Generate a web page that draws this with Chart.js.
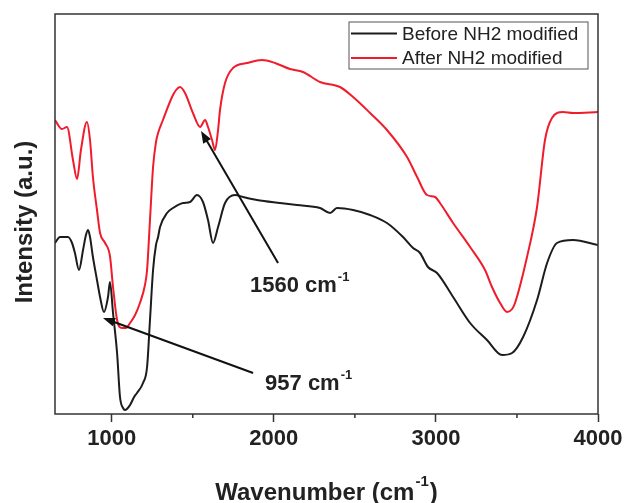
<!DOCTYPE html>
<html>
<head>
<meta charset="utf-8">
<script src="https://cdn.jsdelivr.net/npm/chart.js@4.4.1/dist/chart.umd.min.js"></script>
<style>
  html, body { margin: 0; padding: 0; background: #fff; }
  canvas { display: block; }
</style>
</head>
<body>
<canvas id="chart" width="627" height="503"></canvas>
<script>
// FTIR spectra (intensity in arbitrary units)
const seriesLabels = ['Before NH2 modified', 'After NH2 modified'];
const seriesColors = ['#1c1c1c', '#f01c2c'];

const beforeWavenumber = [650, 681, 730, 755, 773, 798, 823, 841, 854, 866, 884, 909, 928, 952, 977, 989,
  1008, 1033, 1051, 1070, 1082, 1113, 1138, 1156, 1193, 1218, 1236, 1255, 1273, 1286, 1298, 1341, 1378,
  1440, 1483, 1526, 1563, 1594, 1625, 1656, 1699, 1761, 1810, 1896, 2038, 2143, 2285, 2347, 2390, 2489,
  2594, 2698, 2797, 2859, 2902, 2951, 3007, 3106, 3211, 3315, 3408, 3470, 3538, 3624, 3686, 3747, 3846, 4000];
const beforeIntensity = [171, 177, 177, 171, 161, 144, 164, 179, 184, 177, 157, 134, 117, 102, 117, 132,
  101, 61, 17, 6, 4, 9, 17, 21, 31, 47, 94, 144, 169, 177, 187, 201, 206,
  211, 212, 219, 212, 194, 171, 187, 211, 219, 217, 214, 211, 209, 206, 201, 206, 204,
  199, 191, 177, 166, 161, 147, 141, 117, 91, 74, 59, 61, 77, 114, 151, 171, 174, 169];

const afterWavenumber = [650, 693, 724, 761, 786, 810, 847, 866, 884, 909, 928, 959, 989, 1008, 1033, 1063,
  1088, 1113, 1144, 1174, 1205, 1218, 1236, 1255, 1273, 1286, 1316, 1372, 1397, 1421, 1452, 1501, 1545,
  1576, 1594, 1619, 1637, 1656, 1668, 1699, 1748, 1835, 1927, 2007, 2100, 2180, 2285, 2408, 2489, 2594,
  2698, 2822, 2884, 2945, 2995, 3025, 3106, 3211, 3303, 3346, 3396, 3439, 3470, 3488, 3562, 3624, 3673,
  3716, 3784, 3846, 4000];
const afterIntensity = [294, 285, 287, 254, 235, 264, 292, 274, 237, 204, 181, 171, 158, 127, 94, 86,
  86, 91, 99, 111, 129, 144, 194, 247, 272, 281, 294, 317, 324, 327, 321, 301, 287,
  294, 287, 274, 264, 284, 304, 331, 346, 351, 354, 351, 345, 342, 332, 327, 317, 301,
  284, 257, 237, 219, 217, 211, 191, 167, 144, 127, 111, 102, 105, 111, 157, 207, 274,
  296, 302, 301, 302];

const xMajorTicks = [1000, 2000, 3000, 4000];
const xMinorTicks = [1500, 2500, 3500];

// peak annotations: label, arrow tip, arrow tail, text anchor (data units)
const peakLabels = ['1560', '957'];
const peakArrowTip = [[1551, 283], [946, 96]];
const peakArrowTail = [[2026, 151], [1872, 41]];
const peakTextAt = [[1853, 131], [1946, 33]];

const FONT = "'Liberation Sans', Arial, sans-serif";
const INK = '#222222';

function toPoints(xs, ys) {
  return xs.map((x, i) => ({ x, y: ys[i] }));
}

function drawSup(ctx, x, y, main, sup, mainSize, supSize, rise, tail) {
  ctx.font = `bold ${mainSize}px ${FONT}`;
  ctx.fillText(main, x, y);
  let cx = x + ctx.measureText(main).width + 1;
  ctx.font = `bold ${supSize}px ${FONT}`;
  ctx.fillText(sup, cx, y - rise);
  cx += ctx.measureText(sup).width + 1;
  if (tail) {
    ctx.font = `bold ${mainSize}px ${FONT}`;
    ctx.fillText(tail, cx, y);
  }
}

function supWidth(ctx, main, sup, mainSize, supSize, tail) {
  ctx.font = `bold ${mainSize}px ${FONT}`;
  let w = ctx.measureText(main).width + (tail ? ctx.measureText(tail).width : 0);
  ctx.font = `bold ${supSize}px ${FONT}`;
  return w + ctx.measureText(sup).width + 2;
}

function arrow(ctx, x1, y1, x2, y2) {
  const ang = Math.atan2(y2 - y1, x2 - x1);
  const len = 12, half = 4.5;
  ctx.beginPath();
  ctx.moveTo(x1, y1);
  ctx.lineTo(x2 - Math.cos(ang) * len * 0.8, y2 - Math.sin(ang) * len * 0.8);
  ctx.stroke();
  ctx.beginPath();
  ctx.moveTo(x2, y2);
  ctx.lineTo(x2 - Math.cos(ang) * len - Math.sin(ang) * half, y2 - Math.sin(ang) * len + Math.cos(ang) * half);
  ctx.lineTo(x2 - Math.cos(ang) * len + Math.sin(ang) * half, y2 - Math.sin(ang) * len - Math.cos(ang) * half);
  ctx.closePath();
  ctx.fill();
}

const decorPlugin = {
  id: 'decor',
  afterDraw(chart) {
    const { ctx, chartArea: a, scales: { x, y } } = chart;
    ctx.save();

    // frame
    ctx.strokeStyle = '#333';
    ctx.lineWidth = 1.5;
    ctx.strokeRect(a.left, a.top, a.right - a.left, a.bottom - a.top);

    // minor ticks
    ctx.beginPath();
    xMinorTicks.forEach(v => {
      const px = x.getPixelForValue(v);
      ctx.moveTo(px, a.bottom);
      ctx.lineTo(px, a.bottom + 4);
    });
    ctx.stroke();

    // legend
    const bw = 239, bh = 47;
    const bx = a.right - 10 - bw, by = a.top + 8;
    ctx.lineWidth = 1;
    ctx.strokeStyle = '#555';
    ctx.strokeRect(bx, by, bw, bh);
    ctx.font = `19px ${FONT}`;
    ctx.textBaseline = 'middle';
    ctx.textAlign = 'left';
    chart.data.datasets.forEach((ds, i) => {
      const ry = by + 11.5 + i * 24.5;
      ctx.strokeStyle = ds.borderColor;
      ctx.lineWidth = 2;
      ctx.beginPath();
      ctx.moveTo(bx + 2, ry);
      ctx.lineTo(bx + 48, ry);
      ctx.stroke();
      ctx.fillStyle = INK;
      ctx.fillText(ds.label, bx + 53, ry + 1);
    });

    // peak annotations
    ctx.strokeStyle = '#111';
    ctx.fillStyle = '#111';
    ctx.lineWidth = 2;
    peakLabels.forEach((lab, i) => {
      arrow(ctx,
        x.getPixelForValue(peakArrowTail[i][0]), y.getPixelForValue(peakArrowTail[i][1]),
        x.getPixelForValue(peakArrowTip[i][0]), y.getPixelForValue(peakArrowTip[i][1]));
      ctx.textBaseline = 'alphabetic';
      ctx.fillStyle = INK;
      drawSup(ctx, x.getPixelForValue(peakTextAt[i][0]), y.getPixelForValue(peakTextAt[i][1]) + 8.5,
        lab + ' cm', '-1', 22, 13, 11);
      ctx.fillStyle = '#111';
    });

    // axis titles
    ctx.fillStyle = INK;
    ctx.textBaseline = 'alphabetic';
    const tw = supWidth(ctx, 'Wavenumber (cm', '-1', 24, 15, ')');
    drawSup(ctx, (a.left + a.right) / 2 - tw / 2, 500, 'Wavenumber (cm', '-1', 24, 15, 14, ')');

    ctx.save();
    ctx.translate(25, (a.top + a.bottom) / 2 + 8);
    ctx.rotate(-Math.PI / 2);
    ctx.font = `bold 24px ${FONT}`;
    ctx.textAlign = 'center';
    ctx.textBaseline = 'middle';
    ctx.fillText('Intensity (a.u.)', 0, 0);
    ctx.restore();

    ctx.restore();
  }
};

new Chart(document.getElementById('chart'), {
  type: 'line',
  data: {
    datasets: [
      { label: seriesLabels[0], data: toPoints(beforeWavenumber, beforeIntensity), borderColor: seriesColors[0] },
      { label: seriesLabels[1], data: toPoints(afterWavenumber, afterIntensity), borderColor: seriesColors[1] }
    ]
  },
  options: {
    responsive: false,
    animation: false,
    devicePixelRatio: 1,
    layout: { padding: { left: 0, top: 14, right: 29, bottom: 0 } },
    elements: {
      point: { radius: 0 },
      line: { borderWidth: 2, cubicInterpolationMode: 'monotone', fill: false }
    },
    plugins: {
      legend: { display: false },
      tooltip: { enabled: false }
    },
    scales: {
      x: {
        type: 'linear',
        min: 650,
        max: 4000,
        afterFit: s => { s.height = 89; },
        afterBuildTicks: s => { s.ticks = xMajorTicks.map(v => ({ value: v })); },
        grid: { display: true, drawOnChartArea: false, drawTicks: true, tickLength: 8, tickColor: '#333', tickWidth: 1.5 },
        border: { display: false },
        ticks: {
          padding: 4,
          color: INK,
          maxRotation: 0,
          font: { family: FONT, size: 22, weight: 'bold' },
          callback: v => String(v)
        }
      },
      y: {
        min: 0,
        max: 400,
        afterFit: s => { s.width = 55; },
        grid: { display: false },
        border: { display: false },
        ticks: { display: false }
      }
    }
  },
  plugins: [decorPlugin]
});
</script>
</body>
</html>
